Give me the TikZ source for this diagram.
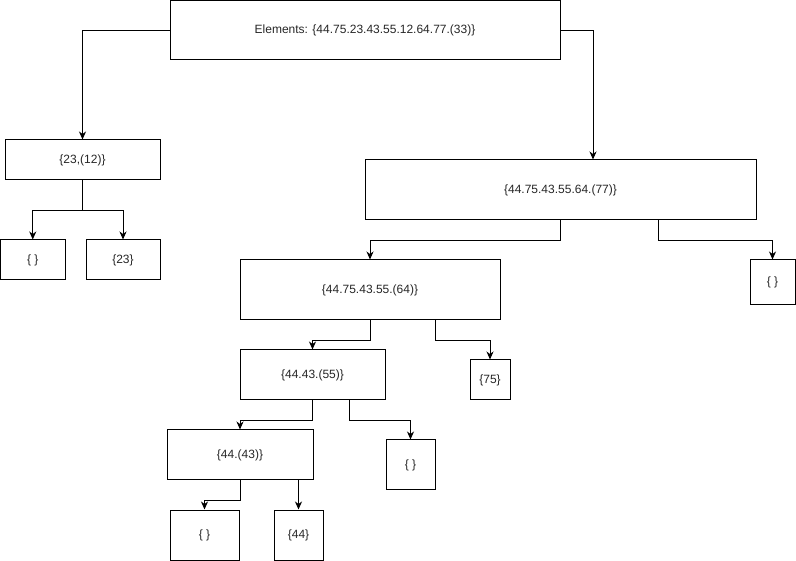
\documentclass[tikz,border=0pt]{standalone}
\usepackage{fontspec}
\setmainfont{Liberation Sans}
\usetikzlibrary{arrows.meta,calc}
\begin{document}
\begin{tikzpicture}[x=1pt,y=-1pt,
  box/.style={draw=black,line width=1pt,inner sep=0pt,text=black!85,font=\fontsize{12}{14}\selectfont},
  conn/.style={draw=black,line width=1pt,-{Stealth[length=8pt,width=7pt,inset=2.5pt]}}]
\useasboundingbox (0,0) rectangle (796,561);
% nodes
\node[box,minimum width=390pt,minimum height=59.5pt] (root) at (365,30.25) {Elements: \{44.75.23.43.55.12.64.77.(33)\}};
\node[box,minimum width=155pt,minimum height=40pt] (n1) at (82.5,160) {\{23,(12)\}};
\node[box,minimum width=64.5pt,minimum height=40pt] (n1a) at (32.75,260) {\{ \}};
\node[box,minimum width=74pt,minimum height=40pt] (n1b) at (123,260) {\{23\}};
\node[box,minimum width=391pt,minimum height=60pt] (n2) at (560.5,190) {\{44.75.43.55.64.(77)\}};
\node[box,minimum width=260pt,minimum height=60pt] (n2a) at (370,290) {\{44.75.43.55.(64)\}};
\node[box,minimum width=45pt,minimum height=45pt] (n2b) at (772.5,282.5) {\{ \}};
\node[box,minimum width=145pt,minimum height=50pt] (n3a) at (312.5,375) {\{44.43.(55)\}};
\node[box,minimum width=40pt,minimum height=40pt] (n3b) at (490,380) {\{75\}};
\node[box,minimum width=146pt,minimum height=50pt] (n4a) at (240,455) {\{44.(43)\}};
\node[box,minimum width=49pt,minimum height=50pt] (n4b) at (410.5,465) {\{ \}};
\node[box,minimum width=69pt,minimum height=50pt] (n5a) at (204.5,535) {\{ \}};
\node[box,minimum width=49pt,minimum height=50pt] (n5b) at (298.5,535) {\{44\}};
% connectors
\draw[conn] (root.west) -| (n1.north);
\draw[conn] (root.east) -| ([xshift=32.5pt]n2.north);
\draw[conn] (n1.south) -- ++(0,30) -| (n1a.north);
\draw[conn] (n1.south) -- ++(0,30) -| (n1b.north);
\draw[conn] ([xshift=-0.5pt]n2.south) -- ++(0,20) -| (n2a.north);
\draw[conn] ([xshift=97.5pt]n2.south) -- ++(0,20) -| (n2b.north);
\draw[conn] (n2a.south) -- ++(0,20) -| (n3a.north);
\draw[conn] ([xshift=65pt]n2a.south) -- ++(0,20) -| (n3b.north);
\draw[conn] (n3a.south) -- ++(0,20) -| (n4a.north);
\draw[conn] ([xshift=36.5pt]n3a.south) -- ++(0,20) -| (n4b.north);
\draw[conn] (n4a.south) -- ++(0,20) -| (n5a.north);
\draw[conn] (n5b.north |- n4a.south) -- (n5b.north);
\end{tikzpicture}
\end{document}
